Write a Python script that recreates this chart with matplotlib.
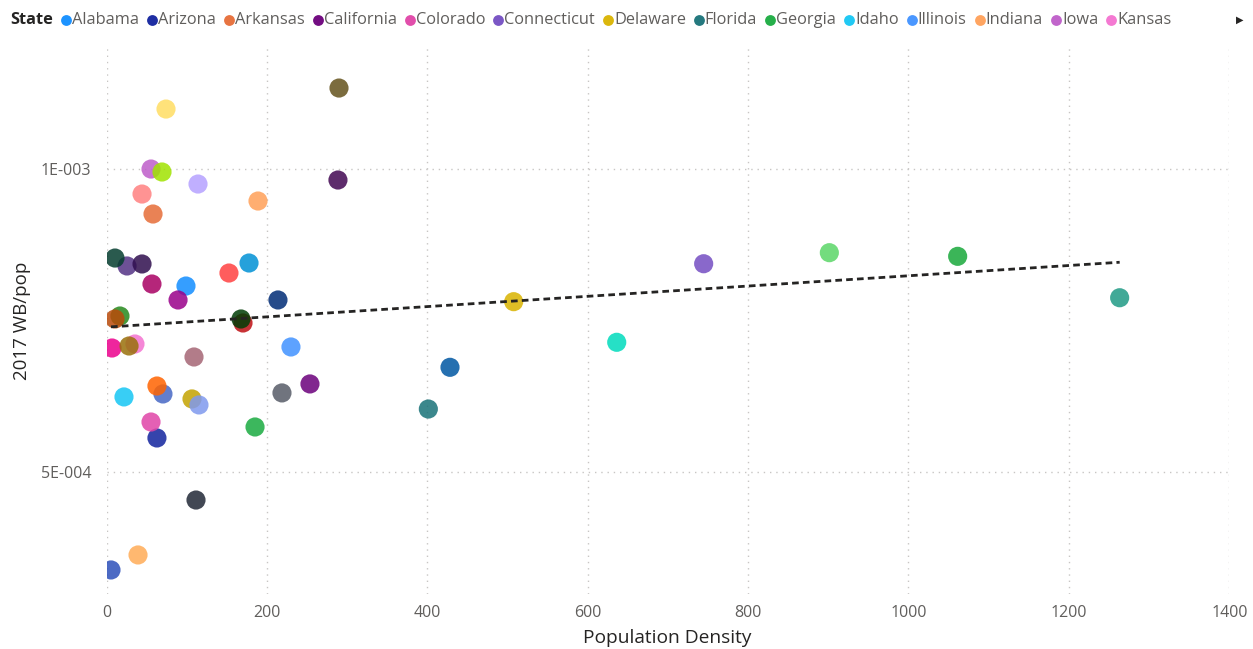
import matplotlib
matplotlib.use("Agg")
import matplotlib.pyplot as plt
import numpy as np
from matplotlib.lines import Line2D

# ---------------- data ----------------
states = ["Alabama", "Arizona", "Arkansas", "California", "Colorado", "Connecticut",
          "Delaware", "Florida", "Georgia", "Idaho", "Illinois", "Indiana", "Iowa",
          "Kansas", "Kentucky", "Louisiana", "Maine", "Maryland", "Massachusetts",
          "Michigan", "Minnesota", "Mississippi", "Missouri", "Montana", "Nebraska",
          "Nevada", "New Hampshire", "New Jersey", "New Mexico", "New York",
          "North Carolina", "North Dakota", "Ohio", "Oklahoma", "Oregon",
          "Pennsylvania", "Rhode Island", "South Carolina", "South Dakota",
          "Tennessee", "Texas", "Utah", "Vermont", "Virginia", "Washington",
          "West Virginia", "Wisconsin", "Wyoming"]

pop_density = [99.1, 62.9, 58.0, 253.7, 55.5, 744.6,
               507.7, 401.3, 185.2, 21.8, 230.0, 188.9, 55.5,
               35.5, 114.1, 106.6, 44.3, 636.2, 901.3,
               177.7, 70.4, 62.9, 89.2, 6.9, 25.6,
               28.1, 152.7, 1263.3, 16.8, 428.3,
               213.8, 10.6, 289.9, 56.7, 44.3,
               288.6, 1061.3, 170.2, 10.6,
               167.7, 109.1, 39.3, 69.2, 218.8, 115.3,
               74.2, 111.6, 5.6]

wb_per_pop = [0.0008068, 0.0005565, 0.0009254, 0.0006455, 0.0005828, 0.0008435,
              0.0007810, 0.0006042, 0.0005746, 0.0006241, 0.0007064, 0.0009468, 0.0009995,
              0.0007113, 0.0009748, 0.0006208, 0.0009583, 0.0007141, 0.0008617,
              0.0008447, 0.0006290, 0.0006421, 0.0007838, 0.0007047, 0.0008398,
              0.0007080, 0.0008282, 0.0007875, 0.0007574, 0.0006729,
              0.0007838, 0.0007525, 0.0011329, 0.0008101, 0.0008431,
              0.0009814, 0.0008557, 0.0007459, 0.0008529,
              0.0007525, 0.0006899, 0.0003638, 0.0009946, 0.0006307, 0.0006109,
              0.0010983, 0.0004543, 0.0003391]

y_ticks = [0.0005, 0.001]
y_tick_labels = ["5E-004", "1E-003"]
x_ticks = [0, 200, 400, 600, 800, 1000, 1200, 1400]

legend_states = states[:14]

state_colors = ["#118DFF", "#12239E", "#E66C37", "#6B007B", "#E044A7", "#744EC2",
                "#D9B300", "#197278", "#1AAB40", "#15C6F4", "#4092FF", "#FFA058", "#BE5DC9",
                "#F472D0", "#B5A1FF", "#C4A200", "#FF8080", "#00DBBC", "#5BD667",
                "#0091D5", "#4668C5", "#FF6300", "#99008A", "#EC008C", "#533285",
                "#99700A", "#FF4141", "#1F9A85", "#25891C", "#0057A2",
                "#002B76", "#B94A0A", "#64521C", "#A80063", "#2F0E4E",
                "#420752", "#18A83B", "#BF0E13", "#053D2F",
                "#003D06", "#A56574", "#FFAC57", "#A0E300", "#575C68", "#7F99EE",
                "#FFDD63", "#212836", "#2D50BA"]

# ---------------- figure ----------------
W, H = 1253, 649
fig = plt.figure(figsize=(W / 100, H / 100), dpi=100)
fig.patch.set_facecolor("white")

ax_l, ax_r, ax_t, ax_b = 106.5, 1229.3, 47.3, 593.7
ax = fig.add_axes([ax_l / W, 1 - ax_b / H, (ax_r - ax_l) / W, (ax_b - ax_t) / H])
ax.set_xlim(0, 1400)
ax.set_ylim(0.0003, 0.0012)

for s in ax.spines.values():
    s.set_visible(False)

grid_kw = dict(color="#C8C6C4", linewidth=1.0, linestyle=(0, (1, 3.5)), zorder=0)
for xv in x_ticks:
    ax.axvline(xv, **grid_kw)
for yv in y_ticks:
    ax.axhline(yv, **grid_kw)

ax.scatter(pop_density, wb_per_pop, s=190, c=state_colors, alpha=0.85,
           linewidths=0, zorder=3)

# trend line (least squares)
xd = np.array(pop_density)
yd = np.array(wb_per_pop)
slope, intercept = np.polyfit(xd, yd, 1)
xl = np.array([xd.min(), xd.max()])
ax.plot(xl, slope * xl + intercept, color="#252423", linewidth=2.0,
        linestyle=(0, (2.4, 1.5)), zorder=4)

tick_font = "Open Sans"
ax.set_xticks(x_ticks)
ax.set_xticklabels([str(v) for v in x_ticks], fontsize=11.5, color="#605E5C",
                   family=tick_font)
ax.set_yticks(y_ticks)
ax.set_yticklabels(y_tick_labels, fontsize=11.5, color="#605E5C", family=tick_font)
ax.tick_params(axis="both", length=0)
ax.tick_params(axis="x", pad=8)
ax.tick_params(axis="y", pad=11)

fig.text(667 / W, 1 - 638 / H, "Population Density", ha="center", va="center",
         fontsize=13.8, color="#252423", family=tick_font)
fig.text(22 / W, 1 - 321 / H, "2017 WB/pop", ha="center", va="center",
         rotation=90, fontsize=13.5, color="#252423", family=tick_font)

# ---------------- legend ----------------
ly = 1 - 20 / H
fig.text(10 / W, ly, "State", ha="left", va="center", fontsize=11.8,
         fontweight="bold", color="#252423", family=tick_font)
renderer = fig.canvas.get_renderer()
cx = 66.0
for name, col in zip(legend_states, state_colors[:14]):
    fig.add_artist(Line2D([cx / W], [ly], marker="o", markersize=7.8,
                          markerfacecolor=col, markeredgewidth=0, alpha=0.95,
                          linestyle="none", transform=fig.transFigure))
    t = fig.text((cx + 6) / W, ly, name, ha="left", va="center", fontsize=11.8,
                 color="#605E5C", family=tick_font)
    bb = t.get_window_extent(renderer)
    cx = bb.x1 + 13
fig.text(1240 / W, ly, "\u25B6", ha="center", va="center", fontsize=7,
         color="#252423", family="DejaVu Sans")

fig.savefig("out.png", dpi=100, facecolor="white")
